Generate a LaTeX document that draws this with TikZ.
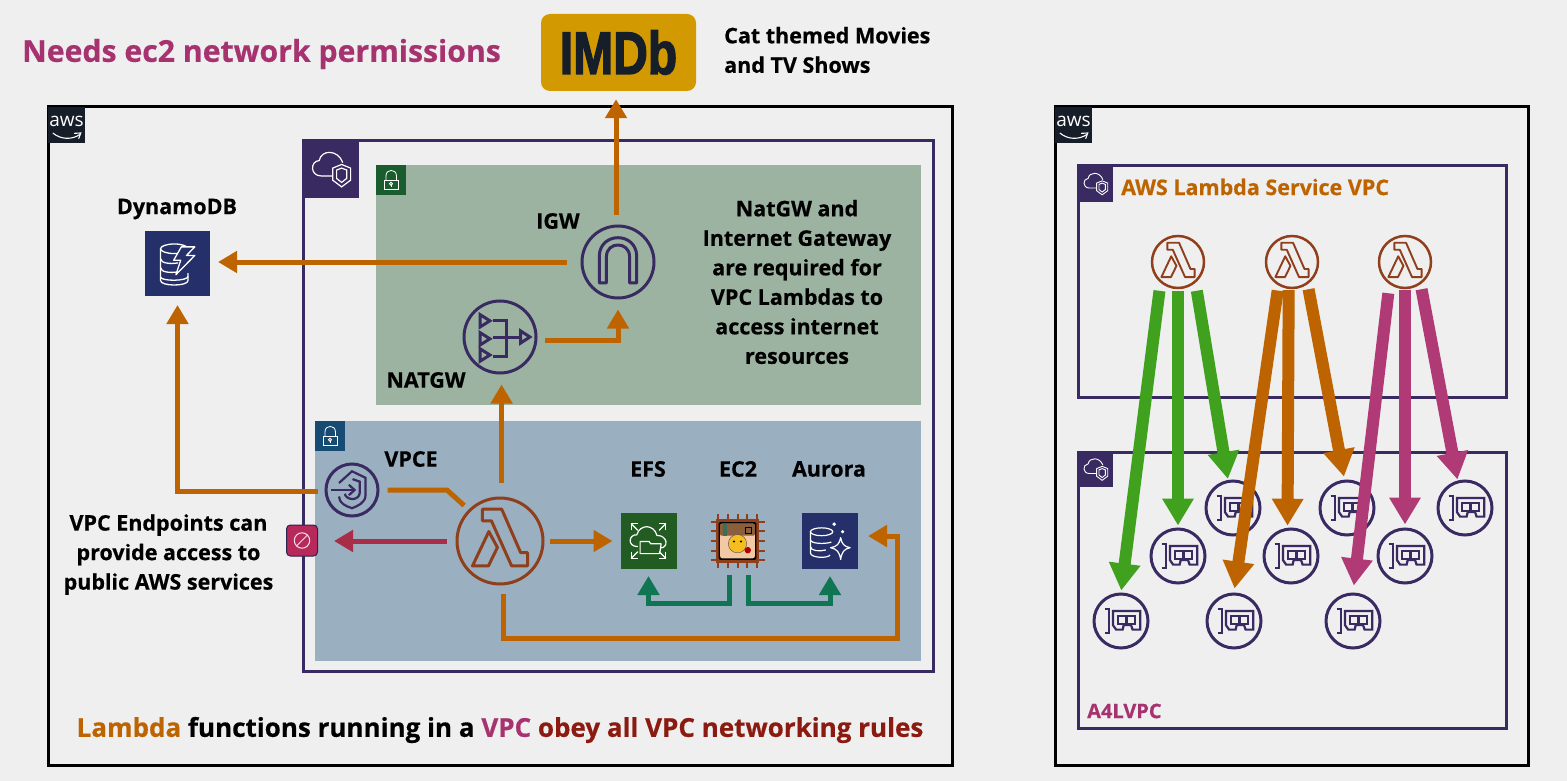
\documentclass[tikz,border=0pt]{standalone}
\usepackage{fontspec}
\usepackage{graphicx}
\setmainfont[BoldFeatures={FakeBold=0.5}]{Open Sans}
\newfontfamily\imdbfont[BoldFeatures={FakeBold=2.5}]{Liberation Sans}
\usetikzlibrary{arrows.meta}
\definecolor{pagegrey}{HTML}{EFEFEF}
\definecolor{vpcpurple}{HTML}{3A2A62}
\definecolor{awsdark}{HTML}{161E2A}
\definecolor{imdbgold}{HTML}{D29A00}
\definecolor{flowgold}{HTML}{BD6400}
\definecolor{lambdabrown}{HTML}{8F3F1C}
\definecolor{flowred}{HTML}{A82E48}
\definecolor{flowteal}{HTML}{0F7552}
\definecolor{flowgreen}{HTML}{3FA11E}
\definecolor{flowpink}{HTML}{B03A75}
\definecolor{headpink}{HTML}{A6326F}
\definecolor{rulesred}{HTML}{8B1A10}
\definecolor{subgreen}{HTML}{9BB3A0}
\definecolor{subblue}{HTML}{9AAFC0}
\definecolor{taggreen}{HTML}{1B5C2E}
\definecolor{tagblue}{HTML}{164B73}
\definecolor{dbblue}{HTML}{25306A}
\definecolor{efsgreen}{HTML}{235C22}
\definecolor{blockpink}{HTML}{B7295A}
\tikzset{
  pics/lambdaicon/.style={code={
    \draw[lambdabrown,line join=round] (-.41,-.74) -- (.04,-.74) -- (.48,.27) -- (.64,.27) -- (.64,.58) -- (.27,.58) -- (-.2,-.47) -- (-.41,-.47) -- cycle;
    \draw[lambdabrown,line join=round] (-.26,-.22) -- (-.06,.15) -- (-.27,.58) -- (-.64,.58) -- cycle;
  }},
  pics/enicon/.style={code={
    \draw[vpcpurple] (-.61,-.43) -- (-.45,-.43) -- (-.45,.43) -- (-.61,.43);
    \draw[vpcpurple] (-.3,-.37) -- (.71,-.37) -- (.71,.32) -- (.43,.32) -- (.37,.15) -- (.1,.15) -- (.06,.32) -- (-.18,.32) -- (-.3,.15) -- cycle;
    \draw[vpcpurple] (-.12,-.18) rectangle (.51,.1);
    \draw[vpcpurple] (.2,-.18) -- (.2,.1);
  }},
  pics/naticon/.style={code={
    \draw[vpcpurple] (-.55,-.62) -- (-.28,-.45) -- (-.55,-.28) -- cycle;
    \draw[vpcpurple] (-.55,-.12) -- (-.28,.05) -- (-.55,.22) -- cycle;
    \draw[vpcpurple] (-.55,.33) -- (-.28,.5) -- (-.55,.67) -- cycle;
    \draw[vpcpurple] (-.2,0) -- (.57,0);
    \draw[vpcpurple] (-.2,-.47) -- (.17,-.47) -- (.17,.53) -- (-.2,.53);
    \draw[vpcpurple] (.57,-.17) -- (.83,0) -- (.57,.17) -- cycle;
  }},
  pics/igwicon/.style={code={
    \draw[vpcpurple,line join=round] (-.52,.58) -- (-.52,-.15) .. controls (-.52,-.85) and (.52,-.85) .. (.52,-.15) -- (.52,.58) -- (.32,.58) -- (.32,-.15) .. controls (.32,-.58) and (-.32,-.58) .. (-.32,-.15) -- (-.32,.58) -- cycle;
  }},
  pics/vpceicon/.style={code={
    \draw[vpcpurple] (-.5,-.27) -- (0,-.72) -- (.52,-.47) -- (.52,.2) .. controls (.52,.5) and (.2,.62) .. (0,.7) .. controls (-.25,.62) and (-.5,.5) .. (-.5,.25);
    \draw[vpcpurple] (-.28,.15) .. controls (-.2,.42) and (.28,.42) .. (.3,.1) -- (.3,-.32) -- (.02,-.42);
    \draw[vpcpurple] (-.8,0) -- (.1,0);
    \draw[vpcpurple] (-.12,-.2) -- (.1,0) -- (-.12,.2);
  }},
  pics/vpcicon/.style={code={
    \draw[white] (.05,.23) -- (-.35,.23) .. controls (-.75,.23) and (-.75,-.3) .. (-.42,-.32) .. controls (-.35,-.72) and (.25,-.72) .. (.42,-.25);
    \draw[white] (.06,-.05) -- (.38,-.18) -- (.7,-.05) -- (.7,.38) -- (.38,.62) -- (.06,.38) -- cycle;
    \draw[white] (.2,.02) -- (.38,-.05) -- (.56,.02) -- (.56,.32) -- (.38,.46) -- (.2,.32) -- cycle;
  }},
  pics/lockicon/.style={code={
    \draw[white] (-.47,0) rectangle (.5,.63);
    \draw[white] (-.33,0) -- (-.33,-.3) .. controls (-.33,-.75) and (.36,-.75) .. (.36,-.3) -- (.36,0);
    \draw[white] (0,.25) circle (.1);
    \draw[white] (0,.35) -- (0,.48);
  }},
  pics/dynamoicon/.style={code={
    \draw[white] (-.1,-.46) ellipse [x radius=.43,y radius=.15];
    \draw[white] (-.53,-.46) -- (-.53,.53) .. controls (-.53,.72) and (.33,.72) .. (.33,.53) -- (.33,.3);
    \draw[white] (-.53,-.15) .. controls (-.53,0) and (-.2,.02) .. (.02,-.02);
    \draw[white] (-.53,.13) .. controls (-.53,.28) and (-.2,.3) .. (.02,.26);
    \draw[white] (-.53,.42) .. controls (-.53,.56) and (.33,.56) .. (.33,.4);
    \draw[white,fill=dbblue,line join=round] (.12,-.52) -- (.54,-.52) -- (.28,-.25) -- (.54,-.25) -- (-.05,.35) -- (.1,-.1) -- (-.12,-.1) -- cycle;
  }},
  pics/efsicon/.style={code={
    \draw[white] (-.38,.2) .. controls (-.78,.2) and (-.7,-.25) .. (-.42,-.22) .. controls (-.3,-.62) and (.2,-.6) .. (.3,-.2) .. controls (.7,-.2) and (.72,.25) .. (.42,.25);
    \draw[white,line join=round] (-.3,.45) -- (-.3,.02) -- (.02,.02) -- (.08,.1) -- (.45,.1) -- (.4,.45) -- cycle;
    \draw[white] (-.62,-.62) -- (-.38,-.38); \draw[white] (-.62,-.38) -- (-.62,-.62) -- (-.38,-.62);
    \draw[white] (.62,-.62) -- (.38,-.38); \draw[white] (.62,-.38) -- (.62,-.62) -- (.38,-.62);
    \draw[white] (-.62,.62) -- (-.38,.38); \draw[white] (-.62,.38) -- (-.62,.62) -- (-.38,.62);
    \draw[white] (.62,.62) -- (.38,.38); \draw[white] (.62,.38) -- (.62,.62) -- (.38,.62);
  }},
  pics/auroraicon/.style={code={
    \draw[white] (-.3,-.33) ellipse [x radius=.4,y radius=.14];
    \draw[white] (-.7,-.33) -- (-.7,.42) .. controls (-.7,.62) and (-.05,.62) .. (0,.5);
    \draw[white] (-.7,-.05) .. controls (-.7,.1) and (-.2,.12) .. (.05,.04);
    \draw[white] (-.7,.2) .. controls (-.7,.36) and (-.35,.38) .. (-.15,.32);
    \draw[white,fill=dbblue,line join=round] (.38,-.12) .. controls (.42,.1) and (.5,.2) .. (.72,.24) .. controls (.5,.28) and (.42,.4) .. (.38,.66) .. controls (.34,.4) and (.25,.28) .. (.02,.24) .. controls (.25,.2) and (.34,.1) .. (.38,-.12) -- cycle;
    \fill[white] (.15,-.6) circle (.07);
    \fill[white] (.45,-.33) circle (.06);
  }},
  pics/chipicon/.style={code={
    \foreach \pinpos in {-.72,-.36,0,.36,.72} {
      \draw[lambdabrown,line width=2pt] (\pinpos,-1) -- (\pinpos,1);
      \draw[lambdabrown,line width=2pt] (-1,\pinpos) -- (1,\pinpos);
    }
    \fill[lambdabrown] (-.8,-.8) rectangle (.8,.8);
    \fill[black,rounded corners=2pt] (-.7,-.7) rectangle (.7,.7);
    \fill[rounded corners=2pt,fill={rgb,255:red,243;green,201;blue,165}] (-.64,-.64) rectangle (.64,.64);
    \fill[fill={rgb,255:red,139;green,94;blue,60},rounded corners=1pt] (-.64,-.64) rectangle (.64,-.2);
    \fill[fill={rgb,255:red,60;green,110;blue,90}] (-.55,-.62) rectangle (-.38,-.18);
    \draw[black,line width=.6pt] (.3,-.5) rectangle (.52,-.28);
    \fill[fill={rgb,255:red,245;green,190;blue,30},draw=black!70,line width=.4pt] (0,.1) circle (.34);
    \fill[black] (-.13,.02) circle (.04);
    \fill[black] (.13,.02) circle (.04);
    \fill[red!70!black] (.38,.34) circle (.12);
  }},
  pics/blockicon/.style={code={
    \draw[white!85!blockpink] (0,0) circle (.55);
    \draw[white!85!blockpink] (-.38,.38) -- (.38,-.38);
  }},
  pics/smileicon/.style={code={
    \draw[white] (-.72,.42) .. controls (-.3,.78) and (.3,.78) .. (.7,.5);
    \draw[white] (.4,.44) -- (.75,.42) -- (.64,.72);
  }}
}
\begin{document}
\begin{tikzpicture}[x=1pt, y=-1pt,
    awsbox/.style={draw=black, line width=3pt, anchor=north west, inner sep=0pt, outer sep=0pt},
    vpcbox/.style={draw=vpcpurple, line width=3pt, anchor=north west, inner sep=0pt, outer sep=0pt},
    subnet/.style={anchor=north west, inner sep=0pt, outer sep=0pt},
    tagbox/.style={anchor=north west, inner sep=0pt, outer sep=0pt},
    svcbox/.style={anchor=north west, inner sep=0pt, outer sep=0pt, minimum width=56pt, minimum height=56pt},
    purplecirc/.style={draw=vpcpurple, circle, line width=3pt, inner sep=0pt},
    lambdacirc/.style={draw=lambdabrown, circle, line width=2.5pt, inner sep=0pt},
    enicirc/.style={purplecirc, minimum size=54pt},
    smalllambda/.style={lambdacirc, minimum size=52pt},
    lbl/.style={font=\fontsize{21.5}{29.5}\selectfont\bfseries, text=black, inner sep=0pt, align=center},
    flow/.style={-{Triangle[width=21pt,length=19pt]}, line width=5pt, draw=flowgold},
    plainflow/.style={line width=5pt, draw=flowgold},
    fatflow/.style={-{Triangle[width=30pt,length=27pt]}, line width=12pt}
  ]
  \useasboundingbox (0,0) rectangle (1567,781);
  \fill[pagegrey] (0,0) rectangle (1567,781);

  % heading
  \node (needs) [anchor=west, inner sep=0pt, text=headpink, font=\fontsize{30.2}{36}\selectfont\bfseries] at (22,54) {Needs ec2 network permissions};
  \node (imdb) [fill=imdbgold, rounded corners=9pt, minimum width=155pt, minimum height=77pt, inner sep=0pt, text=awsdark, font=\imdbfont\fontsize{60}{60}\selectfont\bfseries] at (618.5,52.5) {\scalebox{.8}[1]{IMDb}};
  \node (cat) [lbl, anchor=west, align=left] at (724,50) {Cat themed Movies\\and TV Shows};

  % left account
  \node (awsleft) [awsbox, minimum width=904pt, minimum height=658pt] at (48,107) {};
  \node (awstagl) [tagbox, fill=awsdark, minimum width=37pt, minimum height=36pt, text=white, font=\fontsize{19}{19}\selectfont, text depth=7pt] at (48,107) {aws};
  \node (vpcmain) [vpcbox, minimum width=630pt, minimum height=530pt] at (303,141) {};
  \node (vpctag) [tagbox, fill=vpcpurple, minimum width=56pt, minimum height=57pt] at (303,141) {};
  \node (pubnet) [subnet, fill=subgreen, minimum width=545pt, minimum height=240pt] at (376,165) {};
  \node (pubtag) [tagbox, fill=taggreen, minimum width=30pt, minimum height=30pt] at (376,165) {};
  \node (privnet) [subnet, fill=subblue, minimum width=606pt, minimum height=240pt] at (315,421) {};
  \node (privtag) [tagbox, fill=tagblue, minimum width=30pt, minimum height=30pt] at (315,421) {};

  \node (dynlabel) [lbl] at (177,209) {DynamoDB};
  \node (dynamo) [svcbox, fill=dbblue, minimum width=65pt, minimum height=65pt] at (145,231) {};
  \node (igwlabel) [lbl] at (558,221) {IGW};
  \node (igw) [purplecirc, minimum size=72pt] at (618,262) {};
  \node (nat) [purplecirc, minimum size=72pt] at (500,337) {};
  \node (natlabel) [lbl] at (426,380) {NATGW};
  \node (natnote) [lbl] at (797,282) {NatGW and\\Internet Gateway\\are required for\\VPC Lambdas to\\access internet\\resources};
  \node (vpce) [purplecirc, minimum size=52pt] at (352,490) {};
  \node (vpcelabel) [lbl] at (411,459) {VPCE};
  \node (lam) [lambdacirc, line width=3pt, minimum size=86pt] at (500,541) {};
  \node (block) [fill=blockpink, draw=vpcpurple!80!black, line width=1pt, rounded corners=4pt, minimum size=31pt, inner sep=0pt] at (302,540.5) {};
  \node (endnote) [lbl] at (168.5,554.5) {VPC Endpoints can\\provide access to\\public AWS services};
  \node (efslabel) [lbl] at (648,469) {EFS};
  \node (efs) [svcbox, fill=efsgreen] at (620.5,513) {};
  \node (ec2label) [lbl] at (738,469) {EC2};
  \node (ec2) [minimum width=53pt, minimum height=54pt, inner sep=0pt] at (737.5,541) {};
  \node (aurlabel) [lbl] at (829,469) {Aurora};
  \node (aur) [svcbox, fill=dbblue] at (802,513) {};
  \node (rules) [inner sep=0pt, font=\fontsize{26}{32}\selectfont\bfseries] at (500,730) {\textcolor{flowgold}{Lambda} functions running in a \textcolor{headpink}{VPC} \textcolor{rulesred}{obey all VPC networking rules}};

  \pic[scale=19, line width=1.1pt] at (awstagl) {smileicon};
  \pic[scale=28, line width=1.2pt] at (vpctag) {vpcicon};
  \pic[scale=15, line width=.8pt] at (pubtag) {lockicon};
  \pic[scale=15, line width=.8pt] at (privtag) {lockicon};
  \pic[scale=32, line width=1.3pt] at (dynamo) {dynamoicon};
  \pic[scale=36, line width=3pt] at (igw) {igwicon};
  \pic[scale=36, line width=3pt] at (nat) {naticon};
  \pic[scale=26, line width=2.2pt] at (vpce) {vpceicon};
  \pic[scale=43, line width=3pt] at (lam) {lambdaicon};
  \pic[scale=14, line width=1pt] at (block) {blockicon};
  \pic[scale=28, line width=1.2pt] at (efs) {efsicon};
  \pic[scale=27, line width=1pt] at (ec2) {chipicon};
  \pic[scale=28, line width=1.2pt] at (aur) {auroraicon};

  \draw[flow, shorten <=10pt, shorten >=8pt] (igw.93) -- (igw.93 |- imdb.south);
  \draw[flow, shorten <=14pt, shorten >=8pt] (igw.west) -- (igw.west -| dynamo.east);
  \draw[flow, shorten <=8pt, shorten >=10pt] (nat.-5) -| (igw.south);
  \draw[flow, shorten <=14pt, shorten >=10pt] (lam.88) -- (lam.88 |- nat.south);
  \draw[flow, shorten <=7pt, shorten >=9pt] (vpce.184) -| (dynamo.south);
  \coordinate (vpcebend) at (447,490);
  \draw[plainflow, shorten <=8pt, shorten >=6pt] (vpce.east) -- (vpcebend) -- (lam.135);
  \draw[flow, draw=flowred, shorten <=9pt, shorten >=16pt] (lam.west) -- (lam.west -| block.east);
  \draw[flow, shorten <=5pt, shorten >=8pt] (lam.east) -- (lam.east -| efs.west);
  \coordinate (aurloop) at (897,638);
  \draw[flow, shorten <=9pt, shorten >=10pt] (lam.-85) |- (aurloop) |- (aur.10);
  \draw[flow, draw=flowteal, shorten <=7pt, shorten >=7pt] (ec2.-107) -- ++(0,35) -| (efs.south);
  \draw[flow, draw=flowteal, shorten <=7pt, shorten >=7pt] (ec2.-68) -- ++(0,35) -| (aur.south);

  % right account
  \node (awsright) [awsbox, minimum width=473pt, minimum height=658pt] at (1055,107) {};
  \node (awstagr) [tagbox, fill=awsdark, minimum width=37pt, minimum height=36pt, text=white, font=\fontsize{19}{19}\selectfont, text depth=7pt] at (1055,107) {aws};
  \node (svcvpc) [vpcbox, minimum width=428pt, minimum height=231pt] at (1078,166) {};
  \node (svctag) [tagbox, fill=vpcpurple, minimum width=35pt, minimum height=36pt] at (1078,166) {};
  \node (svclabel) [lbl, anchor=west, text=flowgold] at (1121,187) {AWS Lambda Service VPC};
  \node (a4lvpc) [vpcbox, minimum width=428pt, minimum height=276pt] at (1078,452) {};
  \node (a4ltag) [tagbox, fill=vpcpurple, minimum width=35pt, minimum height=35pt] at (1078,452) {};
  \node (a4llabel) [lbl, anchor=west, text=headpink, font=\fontsize{20}{24}\selectfont\bfseries] at (1087,711) {A4LVPC};

  \node (lamone) [smalllambda] at (1178,262) {};
  \node (lamtwo) [smalllambda] at (1292,262) {};
  \node (lamthree) [smalllambda] at (1405,262) {};
  \node (enia) [enicirc] at (1233,508) {};
  \node (enib) [enicirc] at (1347,508) {};
  \node (enic) [enicirc] at (1465,508) {};
  \node (enid) [enicirc] at (1178,556) {};
  \node (enie) [enicirc] at (1291,556) {};
  \node (enif) [enicirc] at (1405,556) {};
  \node (enig) [enicirc] at (1121,621) {};
  \node (enih) [enicirc] at (1234,621) {};
  \node (enii) [enicirc] at (1353,621) {};

  \pic[scale=19, line width=1.1pt] at (awstagr) {smileicon};
  \pic[scale=17.5, line width=.9pt] at (svctag) {vpcicon};
  \pic[scale=17.5, line width=.9pt] at (a4ltag) {vpcicon};
  \pic[scale=26, line width=1.9pt] at (lamone) {lambdaicon};
  \pic[scale=26, line width=1.9pt] at (lamtwo) {lambdaicon};
  \pic[scale=26, line width=1.9pt] at (lamthree) {lambdaicon};
  \pic[scale=27, line width=2.2pt] at (enia) {enicon};
  \pic[scale=27, line width=2.2pt] at (enib) {enicon};
  \pic[scale=27, line width=2.2pt] at (enic) {enicon};
  \pic[scale=27, line width=2.2pt] at (enid) {enicon};
  \pic[scale=27, line width=2.2pt] at (enie) {enicon};
  \pic[scale=27, line width=2.2pt] at (enif) {enicon};
  \pic[scale=27, line width=2.2pt] at (enig) {enicon};
  \pic[scale=27, line width=2.2pt] at (enih) {enicon};
  \pic[scale=27, line width=2.2pt] at (enii) {enicon};

  \draw[fatflow, draw=flowgreen, fill=flowgreen, shorten <=8pt, shorten >=2pt] (lamone.-130) -- (enig.north);
  \draw[fatflow, draw=flowgreen, fill=flowgreen, shorten <=2pt, shorten >=2pt] (lamone.south) -- (enid.north);
  \draw[fatflow, draw=flowgreen, fill=flowgreen, shorten <=8pt, shorten >=1pt] (lamone.-50) -- (enia.100);
  \draw[fatflow, draw=flowgold, fill=flowgold, shorten <=5pt, shorten >=4pt] (lamtwo.-120) -- (enih.north);
  \draw[fatflow, draw=flowgold, fill=flowgold, shorten <=1pt, shorten >=2pt] (lamtwo.-97) -- (enie.97);
  \draw[fatflow, draw=flowgold, fill=flowgold, shorten <=5pt, shorten >=3pt] (lamtwo.-55) -- (enib.95);
  \draw[fatflow, draw=flowpink, fill=flowpink, shorten <=9pt, shorten >=7pt] (lamthree.-125) -- (enii.north);
  \draw[fatflow, draw=flowpink, fill=flowpink, shorten <=1pt, shorten >=3pt] (lamthree.south) -- (enif.north);
  \draw[fatflow, draw=flowpink, fill=flowpink, shorten <=5pt, shorten >=1pt] (lamthree.-55) -- (enic.105);
\end{tikzpicture}
\end{document}
